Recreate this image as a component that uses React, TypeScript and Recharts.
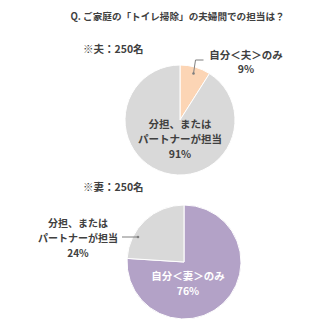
import { PieChart, Pie, Cell } from 'recharts'

const husbandNames = ['自分＜夫＞のみ', '分担、または|パートナーが担当']
const husbandValues = [9, 91]
const husbandColors = ['#FCD5B5', '#D9D9D9']

const wifeNames = ['自分＜妻＞のみ', '分担、または|パートナーが担当']
const wifeValues = [76, 24]
const wifeColors = ['#B3A2C7', '#D9D9D9']

const husbandData = husbandNames.map((name, i) => ({ name, value: husbandValues[i] }))
const wifeData = wifeNames.map((name, i) => ({ name, value: wifeValues[i] }))

const FONT = '"Noto Sans CJK JP", "Noto Sans", sans-serif'
const TEXT = '#404040'
const RAD = Math.PI / 180

const lines = (name: string, value: number) => [...name.split('|'), `${value}%`]

const textBlock = (x: number, y: number, rows: string[], fill = TEXT, step = 15, size = 10.5) =>
  rows.map((r, i) => (
    <text
      key={i}
      x={x}
      y={y + i * step}
      textAnchor="middle"
      dominantBaseline="central"
      fill={fill}
      fontSize={size}
      fontWeight={700}
      fontFamily={FONT}
    >
      {r}
    </text>
  ))

const husbandLabel = (props: any) => {
  const { cx, cy, midAngle, outerRadius, index, name, value } = props
  if (index === 0) {
    const sx = cx + outerRadius * 0.88 * Math.cos(-midAngle * RAD)
    const sy = cy + outerRadius * 0.88 * Math.sin(-midAngle * RAD)
    const ky = cy - outerRadius - 5
    return (
      <g>
        <polyline points={`${sx},${sy} ${sx + 2},${ky} ${sx + 10},${ky}`} fill="none" stroke="#7F7F7F" strokeWidth={1} />
        <circle cx={sx} cy={sy} r={1.3} fill="#7F7F7F" />
        {textBlock(cx + 66, cy - 66, lines(name, value), TEXT, 14)}
      </g>
    )
  }
  return <g>{textBlock(cx, cy + 3, lines(name, value))}</g>
}

const wifeLabel = (props: any) => {
  const { cx, cy, index, name, value } = props
  if (index === 1) {
    return (
      <g>
        <line x1={cx - 62} y1={cy - 25} x2={cx - 46} y2={cy - 25} stroke="#7F7F7F" strokeWidth={1} />
        <circle cx={cx - 46} cy={cy - 25} r={1.3} fill="#7F7F7F" />
        {textBlock(cx - 106, cy - 40, lines(name, value), TEXT, 15, 10)}
      </g>
    )
  }
  return <g>{textBlock(cx + 4, cy + 13, lines(name, value), '#FFFFFF')}</g>
}

const headStyle = {
  position: 'absolute' as const,
  fontFamily: FONT,
  fontWeight: 700,
  color: TEXT,
  whiteSpace: 'nowrap' as const,
  lineHeight: 1,
}

export default function App() {
  return (
    <div style={{ position: 'absolute', left: 0, top: 0, width: 320, height: 320, background: '#fff' }}>
      <div style={{ ...headStyle, left: 0, width: 355, textAlign: 'center', top: 12, fontSize: 9.6 }}>
        Q. ご家庭の「トイレ掃除」の夫婦間での担当は？
      </div>
      <div style={{ ...headStyle, left: 83, top: 44, fontSize: 10.5 }}>※夫：250名</div>
      <div style={{ ...headStyle, left: 83, top: 182, fontSize: 10.5 }}>※妻：250名</div>
      <PieChart width={320} height={320} style={{ position: 'absolute', left: 0, top: 0 }}>
        <Pie
          data={husbandData}
          dataKey="value"
          cx={175}
          cy={115}
          outerRadius={55}
          startAngle={90}
          endAngle={-270}
          stroke="#FFFFFF"
          strokeWidth={1}
          label={husbandLabel}
          labelLine={false}
          isAnimationActive={false}
        >
          {husbandData.map((_d, i) => (
            <Cell key={i} fill={husbandColors[i]} />
          ))}
        </Pie>
        <Pie
          data={wifeData}
          dataKey="value"
          cx={179}
          cy={257}
          outerRadius={57}
          startAngle={90}
          endAngle={-270}
          stroke="#FFFFFF"
          strokeWidth={1}
          label={wifeLabel}
          labelLine={false}
          isAnimationActive={false}
        >
          {wifeData.map((_d, i) => (
            <Cell key={i} fill={wifeColors[i]} />
          ))}
        </Pie>
      </PieChart>
    </div>
  )
}
